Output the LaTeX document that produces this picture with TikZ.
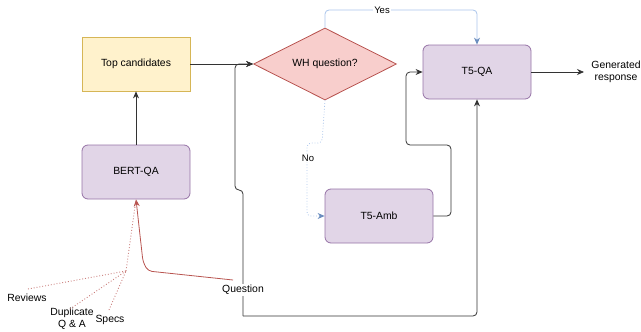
\documentclass[tikz,border=0pt]{standalone}
\usepackage{fontspec}
\setmainfont{Liberation Sans}
\usetikzlibrary{shapes.geometric,arrows.meta}
\definecolor{yfill}{HTML}{FFF2CC}
\definecolor{ydraw}{HTML}{D6B656}
\definecolor{pfill}{HTML}{E1D5E7}
\definecolor{pdraw}{HTML}{9673A6}
\definecolor{rfill}{HTML}{F8CECC}
\definecolor{rdraw}{HTML}{B85450}
\definecolor{bline}{HTML}{A9C4EB}
\definecolor{btip}{HTML}{6C8EBF}
\definecolor{lineg}{HTML}{333333}
\begin{document}
\begin{tikzpicture}[x=1pt,y=-1pt,
  every node/.style={font=\fontsize{10.4}{12.4}\selectfont},
  procbox/.style={draw=pdraw,fill=pfill,rounded corners=6pt,minimum width=108pt,minimum height=54pt,line width=0.8pt},
  candbox/.style={draw=ydraw,fill=yfill,minimum width=108pt,minimum height=54pt,line width=0.8pt},
  decis/.style={diamond,draw=rdraw,fill=rfill,aspect=2,minimum width=143pt,minimum height=72pt,inner sep=0pt,line width=0.8pt},
  arr/.style={draw=lineg,line width=0.8pt,-{Stealth[length=7pt,width=6pt]},rounded corners=4pt},
  bluearr/.style={draw=bline,line width=0.8pt,-{Stealth[length=7pt,width=6pt,color=btip]},rounded corners=4pt},
  redarr/.style={draw=rdraw,line width=0.8pt,-{Stealth[length=7pt,width=6pt]},rounded corners=4pt},
  reddot/.style={draw=rdraw!75,line width=0.9pt,dotted},
  lbl/.style={fill=white,inner sep=1pt}
]
\useasboundingbox (0,0) rectangle (641,332);

\node[candbox] (top) at (136,64) {Top candidates};
\node[procbox] (bert) at (136,172) {BERT-QA};
\node[decis] (wh) at (325,64) {WH question?};
\node[procbox] (t5qa) at (477,72) {T5-QA};
\node[procbox] (t5amb) at (379,216) {T5-Amb};
\node[align=center,inner sep=0pt] (gen) at (616,72) {Generated\\response};
\coordinate (genin) at (584,72);

% black edges
\draw[arr] (bert.north) -- (top.south);
\draw[arr] (top.east) -- (wh.west);
\draw[arr] (t5qa.east) -- (genin);
\draw[arr] (t5amb.east) -- (451,216) -- (451,145) -- (406,145) -- (406,72) -- (t5qa.west);

% question node and its edges
\coordinate (qlow) at (243,316);
\draw[arr] (qlow) -- (243,190) -- (235,190) -- (235,64) -- (wh.west);
\draw[arr] (qlow) -| (t5qa.south);
\node[lbl] (q) at (243,290) {Question};

% yes / no
\draw[bluearr] (wh.north) -- (325,10) -| (t5qa.north);
\node[lbl,font=\fontsize{9.5}{11}\selectfont] (yes) at (382,10) {Yes};
\draw[bluearr,dotted] (wh.south) -- (322,143) -- (307,143) -- (307,216) -- (t5amb.west);
\node[lbl,font=\fontsize{9.5}{11}\selectfont] (no) at (308,158) {No};

% red inputs
\coordinate (qr) at (233,280);
\draw[redarr] (qr) -- (148,271) -- (143,262) -- (bert.south);
\node[inner sep=1pt] (rev) at (27,298) {Reviews};
\node[inner sep=1pt,align=center] (dup) at (72,319) {Duplicate\\Q \& A};
\node[inner sep=1pt] (spec) at (110,320) {Specs};
\coordinate (mrg) at (126,271);
\coordinate (revend) at (28,289);
\coordinate (dupend) at (70,309);
\coordinate (specend) at (109,310);
\draw[reddot] (revend) -- (mrg);
\draw[reddot] (dupend) -- (mrg);
\draw[reddot] (specend) -- (mrg);
\draw[reddot] (mrg) -- (bert.south);
\end{tikzpicture}
\end{document}
